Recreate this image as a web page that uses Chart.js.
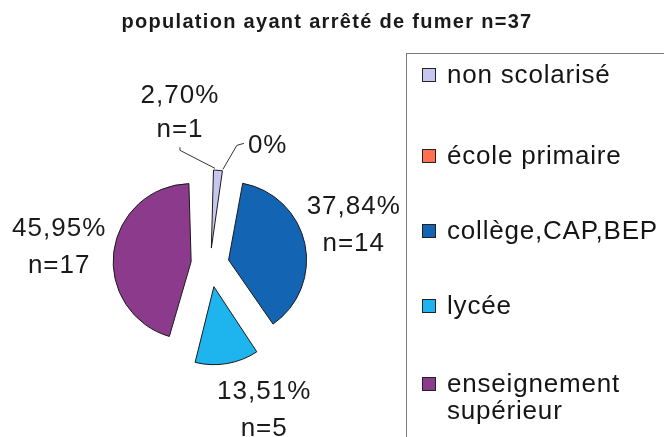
<!DOCTYPE html>
<html>
<head>
<meta charset="utf-8">
<script src="https://cdn.jsdelivr.net/npm/chart.js@4.4.1/dist/chart.umd.min.js"></script>
<style>
  html, body { margin: 0; padding: 0; background: #fff; }
  #wrap { position: relative; width: 664px; height: 437px; overflow: hidden; }
  #legend {
    position: absolute; left: 406px; top: 53px; width: 320px; height: 420px;
    border-left: 1px solid #7a7a7a; border-top: 1px solid #7a7a7a;
    font-family: "Liberation Sans", Arial, sans-serif; font-size: 26px; color: #151515;
    letter-spacing: 0.8px;
  }
  .item { position: absolute; left: 15px; display: flex; align-items: flex-start; line-height: 27px; white-space: nowrap; }
  .sw { width: 12px; height: 12px; border: 1px solid #222; margin-top: 7px; margin-right: 11px; flex: none; }
</style>
</head>
<body>
<div id="wrap">
  <canvas id="pieChart" width="664" height="437"></canvas>
  <div id="legend"></div>
</div>
<script>
// donnees
const categories = ['non scolarisé', 'école primaire', 'collège,CAP,BEP', 'lycée', 'enseignement supérieur'];
const legendLines = [['non scolarisé'], ['école primaire'], ['collège,CAP,BEP'], ['lycée'], ['enseignement', 'supérieur']];
const counts = [1, 0, 14, 5, 17];
const colors = ['#c6c6ef', '#ff7050', '#1464b4', '#1eb4ee', '#8c3a8c'];
const titleText = 'population ayant arrêté de fumer n=37';

// decalage des parts (eclate) et placement des etiquettes
const sliceOffsets = [64, 64, 76, 92, 76];
const labelPlace = [
    { mode: 'leader', dx: -38, dy: -58 },
    { mode: 'side', dx: 22, dy: -27 },
    { mode: 'block', dx: 2, dy: -10 },
    { mode: 'block', dx: 29, dy: -3 },
    { mode: 'block', dx: -7, dy: -1 }
];

const total = counts.reduce((a, b) => a + b, 0);

function pctText(v) {
    if (v === 0) return '0%';
    return (v / total * 100).toFixed(2).replace('.', ',') + '%';
}

function arcFix(arc) {
    const circ = arc.endAngle - arc.startAngle;
    return 1 - Math.sin(Math.min(Math.PI, circ));
}

// Chart.js agrandit le rayon des parts eclatees : on le compense pour garder un rayon commun
const radiusFixPlugin = {
    id: 'radiusFix',
    beforeDatasetsDraw(chart) {
        const meta = chart.getDatasetMeta(0);
        const baseR = meta.controller.outerRadius;
        meta.data.forEach(arc => {
            const off = (arc.options.offset || 0) / 4;
            arc.outerRadius = baseR - off * arcFix(arc);
        });
    }
};

function sliceGeom(chart, arc) {
    const meta = chart.getDatasetMeta(0);
    const t = (arc.options.offset || 0) / 4;
    const h = (arc.startAngle + arc.endAngle) / 2;
    const ux = Math.cos(h), uy = Math.sin(h);
    return { ax: arc.x + ux * t, ay: arc.y + uy * t, ux: ux, uy: uy, r: meta.controller.outerRadius };
}

const labelPlugin = {
    id: 'pieLabels',
    afterDraw(chart) {
        const ctx = chart.ctx;
        const meta = chart.getDatasetMeta(0);
        ctx.save();
        // titre
        ctx.font = 'bold 20px "Liberation Sans", Arial, sans-serif';
        ctx.letterSpacing = '1.3px';
        ctx.fillStyle = '#1a1a1a';
        ctx.textAlign = 'center';
        ctx.textBaseline = 'alphabetic';
        ctx.fillText(titleText, 327, 28);

        ctx.font = '26px "Liberation Sans", Arial, sans-serif';
        ctx.letterSpacing = '1px';
        ctx.strokeStyle = '#333';
        ctx.lineWidth = 1;
        meta.data.forEach((arc, i) => {
            const g = sliceGeom(chart, arc);
            const pl = labelPlace[i];
            const line1 = pctText(counts[i]);
            const line2 = counts[i] > 0 ? 'n=' + counts[i] : '';
            if (pl.mode === 'block') {
                const cx = g.ax + (g.r + 48) * g.ux + pl.dx;
                const cy = g.ay + (g.r + 48) * g.uy + pl.dy;
                ctx.textAlign = 'center';
                ctx.fillText(line1, cx, cy - 9);
                ctx.fillText(line2, cx, cy + 28);
            } else {
                const ox = g.ax + g.r * g.ux;
                const oy = g.ay + g.r * g.uy;
                const cx = ox + pl.dx;
                const cy = oy + pl.dy;
                ctx.beginPath();
                if (pl.mode === 'leader') {
                    ctx.moveTo(ox - 3, oy - 2);
                    ctx.lineTo(cx, cy + 38);
                    ctx.lineTo(cx, cy + 35);
                    ctx.stroke();
                    ctx.textAlign = 'center';
                    ctx.fillText(line1, cx, cy - 9);
                    ctx.fillText(line2, cx, cy + 25);
                } else {
                    ctx.moveTo(ox - 3, oy - 2);
                    ctx.lineTo(cx - 11, cy + 1);
                    ctx.lineTo(cx - 4, cy - 1);
                    ctx.stroke();
                    ctx.textAlign = 'left';
                    ctx.fillText(line1, cx, cy + 9);
                }
            }
        });
        ctx.restore();
    }
};

const ctx = document.getElementById('pieChart').getContext('2d');
new Chart(ctx, {
    type: 'pie',
    data: {
        labels: categories,
        datasets: [{
            data: counts,
            backgroundColor: colors,
            borderColor: '#1a1a1a',
            borderWidth: 1,
            offset: sliceOffsets,
            hoverOffset: 0
        }]
    },
    options: {
        responsive: false,
        devicePixelRatio: 1,
        animation: false,
        radius: 78,
        layout: { padding: { left: 60, right: 304, top: 114, bottom: 23 } },
        plugins: {
            legend: { display: false },
            title: { display: false },
            tooltip: { enabled: false }
        }
    },
    plugins: [radiusFixPlugin, labelPlugin]
});

// legende a droite
const legend = document.getElementById('legend');
const rowCenters = [74, 155, 230, 305, 383];
legendLines.forEach((lines, i) => {
    const item = document.createElement('div');
    item.className = 'item';
    item.style.top = (rowCenters[i] - 53 - 1 - 13.5) + 'px';
    const sw = document.createElement('div');
    sw.className = 'sw';
    sw.style.background = colors[i];
    const txt = document.createElement('div');
    txt.innerHTML = lines.join('<br>');
    item.appendChild(sw);
    item.appendChild(txt);
    legend.appendChild(item);
});
</script>
</body>
</html>
